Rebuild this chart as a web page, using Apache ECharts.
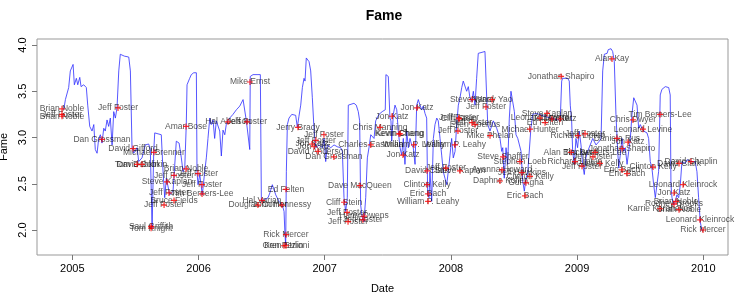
<!DOCTYPE html>
<html><head><meta charset="utf-8">
<script src="https://cdn.jsdelivr.net/npm/echarts@6/dist/echarts.min.js"></script>
<style>html,body{margin:0;padding:0;background:#fff}#c{width:747px;height:305px}</style>
</head><body><div id="c"></div>
<script>
// Tick labels
const xTicks = [2005, 2006, 2007, 2008, 2009, 2010];
const yTicks = [2.0, 2.5, 3.0, 3.5, 4.0];

// Fame time series (decimal year, fame)
const lineYears = [
2004.932,2004.945,2004.971,2004.984,2005.006,2005.016,2005.032,2005.043,2005.059,2005.069,2005.090,2005.111,2005.122,2005.130,2005.138,2005.156,2005.170,2005.182,2005.196,2005.209,
2005.222,2005.235,2005.249,2005.261,2005.275,2005.288,2005.301,2005.315,2005.328,2005.341,2005.354,2005.368,2005.380,2005.394,2005.412,2005.447,2005.460,2005.473,2005.487,2005.513,
2005.526,2005.552,2005.578,2005.605,2005.618,2005.632,2005.645,2005.653,2005.666,2005.705,2005.719,2005.732,2005.745,2005.772,2005.798,2005.824,2005.846,2005.864,2005.877,2005.891,
2005.903,2005.909,2005.930,2005.943,2005.962,2005.983,2005.988,2005.996,2006.010,2006.030,2006.049,2006.062,2006.075,2006.089,2006.101,2006.115,2006.128,2006.141,2006.155,2006.168,
2006.181,2006.194,2006.208,2006.220,2006.234,2006.247,2006.273,2006.300,2006.327,2006.353,2006.366,2006.379,2006.406,2006.410,2006.432,2006.471,2006.490,2006.498,2006.511,2006.551,
2006.565,2006.585,2006.598,2006.612,2006.638,2006.664,2006.678,2006.685,2006.691,2006.696,2006.704,2006.717,2006.739,2006.770,2006.783,2006.796,2006.810,2006.823,2006.836,2006.844,
2006.854,2006.862,2006.876,2006.889,2006.902,2006.915,2006.929,2006.955,2006.981,2006.995,2007.008,2007.021,2007.048,2007.074,2007.100,2007.127,2007.140,2007.153,2007.166,2007.179,
2007.187,2007.198,2007.232,2007.250,2007.266,2007.277,2007.285,2007.298,2007.311,2007.325,2007.338,2007.351,2007.365,2007.377,2007.391,2007.404,2007.430,2007.456,2007.480,2007.485,
2007.491,2007.504,2007.517,2007.525,2007.531,2007.544,2007.557,2007.571,2007.583,2007.597,2007.610,2007.623,2007.636,2007.650,2007.663,2007.676,2007.689,2007.702,2007.716,2007.729,
2007.742,2007.755,2007.769,2007.781,2007.795,2007.808,2007.816,2007.827,2007.834,2007.848,2007.861,2007.874,2007.888,2007.900,2007.914,2007.927,2007.940,2007.953,2007.967,2007.979,
2007.993,2008.006,2008.019,2008.033,2008.046,2008.059,2008.072,2008.086,2008.098,2008.112,2008.125,2008.138,2008.151,2008.165,2008.178,2008.191,2008.204,2008.217,2008.230,2008.270,
2008.284,2008.292,2008.310,2008.336,2008.363,2008.389,2008.403,2008.411,2008.423,2008.437,2008.450,2008.463,2008.476,2008.490,2008.503,2008.516,2008.530,2008.556,2008.569,2008.582,
2008.595,2008.609,2008.621,2008.634,2008.648,2008.674,2008.701,2008.740,2008.793,2008.846,2008.867,2008.878,2008.886,2008.926,2008.938,2008.946,2008.957,2008.965,2008.978,2008.991,
2009.004,2009.017,2009.031,2009.044,2009.057,2009.070,2009.084,2009.096,2009.124,2009.150,2009.176,2009.190,2009.203,2009.216,2009.238,2009.247,2009.269,2009.282,2009.295,2009.308,
2009.322,2009.330,2009.342,2009.356,2009.369,2009.382,2009.396,2009.409,2009.422,2009.435,2009.449,2009.461,2009.475,2009.488,2009.501,2009.514,2009.527,2009.554,2009.567,2009.580,
2009.593,2009.607,2009.620,2009.633,2009.646,2009.659,2009.672,2009.699,2009.726,2009.738,2009.744,2009.752,2009.766,2009.778,2009.791,2009.805,2009.818,2009.831,2009.845,2009.857,
2009.871,2009.884,2009.910,2009.936,2009.950,2009.963,2009.976,2009.990
];
const lineFame = [
3.30,3.41,3.54,3.72,3.79,3.57,3.64,3.57,3.65,3.55,3.57,3.54,3.35,3.34,3.12,3.07,3.14,2.87,2.83,2.99,
3.03,2.94,3.10,3.07,3.19,3.12,3.21,2.92,3.28,3.21,3.32,3.72,3.90,3.90,3.88,3.87,3.72,2.89,2.83,2.89,
2.74,2.78,2.92,2.93,2.87,2.02,2.85,3.05,3.05,3.03,2.63,2.35,2.56,2.38,2.42,2.96,2.94,2.78,2.63,2.67,
3.14,3.57,3.64,3.68,3.70,3.70,2.63,2.49,2.60,2.38,2.63,2.78,2.99,3.21,3.14,3.19,2.99,3.18,3.16,3.07,
2.80,3.08,3.03,3.14,3.19,3.18,3.25,3.30,3.34,3.41,3.39,3.18,2.87,3.66,3.68,3.68,3.68,2.31,2.29,2.35,
2.40,2.49,2.51,2.38,2.31,2.27,2.20,1.95,1.84,2.63,3.14,3.21,3.25,3.24,3.11,3.23,3.35,3.54,3.64,3.61,
3.86,3.88,3.82,3.72,3.43,3.10,2.89,2.92,2.89,2.99,2.74,2.92,2.89,2.92,2.90,2.89,2.85,2.35,2.20,2.35,
3.35,3.37,3.37,3.35,3.28,3.18,2.27,2.13,2.09,2.35,2.78,2.89,3.03,3.05,2.99,3.18,3.25,3.28,3.30,3.68,
3.70,3.66,3.21,3.18,2.96,3.25,3.35,3.30,3.07,2.89,2.81,2.99,2.71,3.07,2.89,2.99,2.92,2.89,2.71,3.35,
3.41,3.35,3.30,3.34,3.26,3.21,2.38,2.35,2.63,2.31,2.99,3.14,3.21,3.18,2.99,2.81,2.63,2.56,2.49,2.63,
2.81,2.99,2.78,2.85,3.14,3.35,3.43,3.54,3.61,3.62,3.50,3.55,3.43,3.39,3.50,3.35,3.64,3.91,3.93,3.93,
3.93,3.14,3.07,3.18,3.10,2.99,2.85,2.89,2.56,2.89,2.71,3.21,3.50,3.48,3.28,3.03,2.99,2.85,2.53,2.42,
2.56,2.62,2.63,3.10,3.25,3.26,3.25,3.23,3.21,3.19,3.21,3.61,3.64,3.64,3.61,3.35,3.18,2.85,2.71,2.99,
2.89,3.07,2.92,2.71,2.60,2.78,2.85,2.83,2.99,2.92,2.96,2.99,3.72,3.90,3.91,3.95,3.96,3.93,3.82,3.25,
2.85,2.67,2.81,2.99,2.85,2.89,2.71,2.85,2.99,3.25,3.43,3.45,3.35,3.10,3.14,3.10,3.07,3.05,2.99,2.74,
2.67,2.49,2.35,2.35,2.63,3.46,3.52,3.55,3.54,3.46,2.49,2.35,2.27,2.31,2.38,2.35,2.49,2.74,2.76,2.72,
2.76,2.76,2.74,2.74,2.63,2.35,2.09,1.99
];

// Labelled people (name, decimal year, fame)
const names = [
"Brian Noble","Jeff Foster","Brian Noble","Jeff Foster","Dan Grossman","David Gifford","Michael Brenner","Tom Dobkin","David Dobkin","Brian Noble",
"Jeff Foster","Jeff Foster","Steve Kaplan","Jeff Foster","Jeff Foster","Tim Berners-Lee","Bruce Fields","Jeff Foster","Saul Griffith","Tom Knight",
"Amar Bose","Hal Abelson","Jeff Foster","Mike Ernst","Hal Varian","Douglas Comer","John Hennessy","Ed Felten","Rick Mercer","Oren Etzioni",
"Ken Perlin","Jerry Brady","Jeff Foster","Jeff Foster","Jon Katz","Jon Katz","David Anderson","Dan Grossman","Dave MacQueen","Cliff Stein",
"Jeff Foster","Harry Owens","Jeff Foster","Jeff Foster","Chris Manning","Jon Katz","Jon Katz","Kevin Chang","Kevin Cheng","Charles Eastman",
"Jon Katz","William P. Leahy","William P. Leahy","Jeff Foster","Cliff Stein","Jeff Foster","Ellen Spertus","Jeff Foster","Steve Ward","Nancy Yao",
"Jeff Foster","Mike Phelan","Michael Hunter","Steve Shaffer","Stephen Loeb","Ayanna Howard","Daphne Koller","Gul Agha","Clinton Kelly","Jeff Hawkins",
"Eric Bach","David Clark","Jeff Foster","Steve Kaplan","Clinton Kelly","Eric Bach","William P. Leahy","Steve Kaplan","Leonard Levine","Ed Felten",
"Jon Katz","Jeff Foster","Jonathan Shapiro","Alan Kay","Tim Berners-Lee","Chris Dwyer","Leonard Levine","Richard Lipton","Jeff Foster","Daniela Rus",
"Jon Katz","Alan Blackwell","Tim Berners-Lee","Jonathan Shapiro","Jeff Foster","Richard Lipton","Jeff Foster","Clinton Kelly","Eric Bach","Eric Bach",
"Clinton Kelly","David Clark","David Chaplin","Leonard Kleinrock","Jon Katz","Brian Noble","Rodney Brooks","Karrie Karahalios","Brian Noble","Leonard Kleinrock",
"Rick Mercer"
];
const nameYears = [
2004.918,2004.918,2004.918,2005.362,2005.235,2005.481,2005.647,2005.513,2005.552,2005.901,
2005.806,2005.996,2005.750,2006.028,2005.766,2006.028,2005.806,2005.727,2005.624,2005.624,
2005.901,2006.234,2006.384,2006.408,2006.503,2006.471,2006.661,2006.693,2006.693,2006.693,
2006.677,2006.788,2006.994,2006.930,2006.899,2006.915,2006.946,2007.073,2007.279,2007.153,
2007.177,2007.311,2007.185,2007.303,2007.438,2007.533,2007.731,2007.589,2007.597,2007.365,
2007.620,2007.707,2008.032,2008.064,2008.064,2008.056,2008.191,2008.167,2008.167,2008.326,
2008.278,2008.310,2008.627,2008.413,2008.548,2008.405,2008.389,2008.595,2008.627,2008.563,
2008.587,2007.811,2007.961,2008.072,2007.811,2007.819,2007.819,2008.762,2008.706,2008.746,
2008.865,2008.801,2008.873,2009.277,2009.658,2009.443,2009.522,2009.007,2009.063,2009.316,
2009.403,2008.952,2009.142,2009.356,2009.126,2008.983,2009.039,2009.181,2009.356,2009.396,
2009.602,2009.808,2009.903,2009.840,2009.768,2009.784,2009.768,2009.657,2009.808,2009.974,
2009.998
];
const nameFame = [
3.31,3.25,3.23,3.32,2.98,2.88,2.84,2.71,2.71,2.66,
2.59,2.61,2.52,2.49,2.40,2.39,2.32,2.27,2.04,2.02,
3.12,3.17,3.17,3.60,2.32,2.27,2.27,2.44,1.95,1.83,
1.83,3.11,3.03,2.97,2.93,2.90,2.85,2.79,2.48,2.30,
2.19,2.15,2.09,2.11,3.11,3.23,3.32,3.04,3.04,2.92,
2.81,2.92,2.92,3.21,3.20,3.07,3.14,3.16,3.41,3.41,
3.33,3.02,3.09,2.79,2.74,2.65,2.53,2.51,2.58,2.62,
2.37,2.64,2.67,2.64,2.49,2.39,2.31,3.26,3.21,3.16,
3.20,3.20,3.66,3.85,3.25,3.19,3.09,3.02,3.04,2.99,
2.95,2.84,2.84,2.88,2.79,2.74,2.69,2.72,2.65,2.61,
2.68,2.72,2.74,2.49,2.40,2.31,2.28,2.23,2.22,2.11,
2.00
];

const lineData = lineYears.map((x, i) => [x, lineFame[i]]);
const pts = names.map((n, i) => ({ name: n, value: [nameYears[i], nameFame[i]] }));

const chart = echarts.init(document.getElementById('c'), null, { renderer: 'canvas' });
const FONT = '"Liberation Sans", Arial, sans-serif';
chart.setOption({
  animation: false,
  backgroundColor: '#ffffff',
  title: {
    text: 'Fame', left: 379, top: 4, textAlign: 'center',
    textStyle: { fontFamily: FONT, fontSize: 14, fontWeight: 'bold', color: '#000' }
  },
  grid: { left: 37, right: 19, top: 39, bottom: 50, outerBoundsMode: 'none', containLabel: false, show: true, borderColor: '#999', borderWidth: 1, backgroundColor: 'transparent' },
  xAxis: {
    type: 'value', min: 2004.72, max: 2010.196,
    name: 'Date', nameLocation: 'middle', nameGap: 28,
    nameTextStyle: { fontFamily: FONT, fontSize: 11, color: '#000' },
    splitLine: { show: false },
    axisLine: { show: false },
    axisTick: { show: true, customValues: xTicks, length: 5, lineStyle: { color: '#777' } },
    axisLabel: { customValues: xTicks, margin: 8, fontFamily: FONT, fontSize: 11, color: '#000', formatter: v => String(Math.round(v)) }
  },
  yAxis: {
    type: 'value', min: 1.73, max: 4.065,
    name: 'Fame', nameLocation: 'middle', nameGap: 22,
    nameTextStyle: { fontFamily: FONT, fontSize: 11, color: '#000' },
    splitLine: { show: false },
    axisLine: { show: false },
    axisTick: { show: true, customValues: yTicks, length: 5, lineStyle: { color: '#777' } },
    axisLabel: { customValues: yTicks, rotate: 90, margin: 9, fontFamily: FONT, fontSize: 11, color: '#000', formatter: v => v.toFixed(1) }
  },
  series: [
    {
      type: 'line', data: lineData, showSymbol: false, symbol: 'none', z: 1,
      lineStyle: { color: 'rgba(45,45,255,0.8)', width: 1 }
    },
    {
      type: 'scatter', data: pts, symbolSize: 0, z: 2,
      label: {
        show: true, position: 'inside', formatter: '{b}',
        fontFamily: FONT, fontSize: 8.5, color: 'rgba(0,0,0,0.85)'
      }
    },
    {
      type: 'scatter', data: pts, z: 3,
      symbol: 'path://M4,0h2v4h4v2h-4v4h-2v-4h-4v-2h4z', symbolSize: 6,
      itemStyle: { color: '#ff0000' }, label: { show: false }
    }
  ]
});
</script>
</body></html>
